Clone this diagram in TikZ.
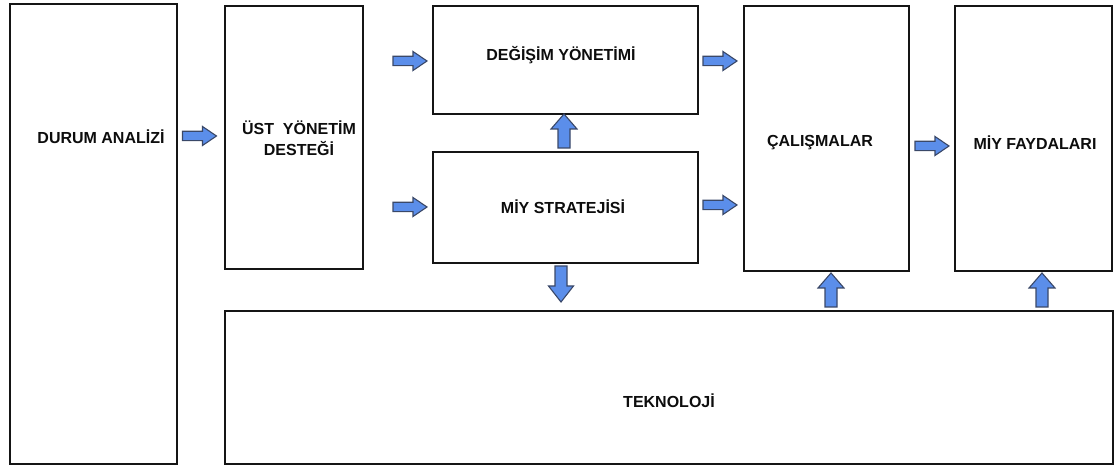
\documentclass[tikz,border=0pt]{standalone}
\usepackage{fontspec}
\setmainfont{Liberation Sans}
\definecolor{arrfill}{HTML}{5B8EEA}
\definecolor{arrline}{HTML}{3A4868}
\definecolor{boxline}{HTML}{151515}
\tikzset{
  box/.style={draw=boxline, line width=2.3bp, fill=white, rectangle},
  lbl/.style={font=\fontsize{16bp}{21bp}\selectfont\bfseries, text=black!95, align=center, inner sep=0pt},
  blk/.style={draw=arrline, fill=arrfill, line width=1.1bp, line join=miter},
  pics/rblk/.style={code={\path[blk] (-17,-4.7) -- (3,-4.7) -- (3,-9.5) -- (17,0) -- (3,9.5) -- (3,4.7) -- (-17,4.7) -- cycle;}},
  pics/ublk/.style={code={\path[blk] (-6,17) -- (-6,-2) -- (-13,-2) -- (0,-17) -- (13,-2) -- (6,-2) -- (6,17) -- cycle;}},
  pics/dblk/.style={code={\path[blk] (-6,-18) -- (-6,2) -- (-12.5,2) -- (0,18) -- (12.5,2) -- (6,2) -- (6,-18) -- cycle;}},
}
\begin{document}
\begin{tikzpicture}[x=1bp,y=-1bp]
\useasboundingbox (0,0) rectangle (1115,465);
% boxes
\node[box, anchor=north west, minimum width=167bp, minimum height=460bp] (durum) at (9,3) {};
\node[box, anchor=north west, minimum width=138bp, minimum height=263bp] (ust) at (224,5) {};
\node[box, anchor=north west, minimum width=265bp, minimum height=108bp] (degisim) at (432,5) {};
\node[box, anchor=north west, minimum width=265bp, minimum height=111bp] (miy) at (432,151) {};
\node[box, anchor=north west, minimum width=165bp, minimum height=265bp] (calisma) at (743,5) {};
\node[box, anchor=north west, minimum width=157bp, minimum height=265bp] (fayda) at (954,5) {};
\node[box, anchor=north west, minimum width=888bp, minimum height=153bp] (tekno) at (224,310) {};
% labels
\node[lbl] (tdurum) at (101,137) {DURUM ANALİZİ};
\node[lbl] (tust) at (299,138) {ÜST\ \ YÖNETİM\\DESTEĞİ};
\node[lbl] (tdeg) at (561,55) {DEĞİŞİM YÖNETİMİ};
\node[lbl] (tmiy) at (563,207) {MİY STRATEJİSİ};
\node[lbl] (tcal) at (820,143) {ÇALIŞMALAR};
\node[lbl] (tfay) at (1035,143) {MİY FAYDALARI};
\node[lbl] (ttek) at (669,401) {TEKNOLOJİ};
% block arrows
\pic (a1) at (199.5,136) {rblk};
\pic (a2) at (410,61) {rblk};
\pic (a3) at (410,207) {rblk};
\pic (a4) at (720,61) {rblk};
\pic (a5) at (720,205) {rblk};
\pic (a6) at (932,146) {rblk};
\pic (u1) at (564,131) {ublk};
\pic (d1) at (561,284) {dblk};
\pic (u2) at (831,290) {ublk};
\pic (u3) at (1042,290) {ublk};
\end{tikzpicture}
\end{document}
